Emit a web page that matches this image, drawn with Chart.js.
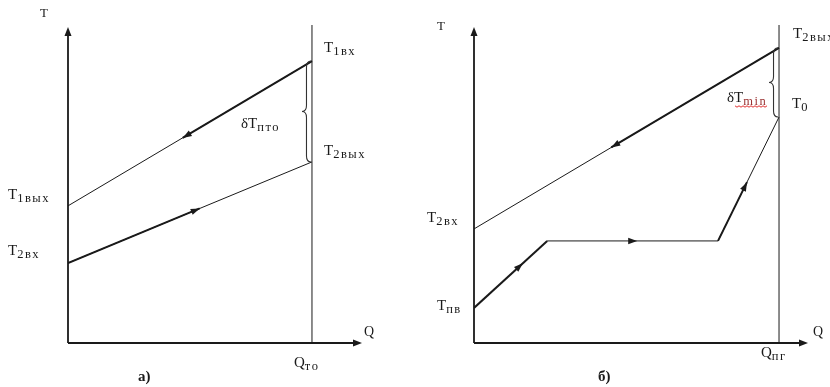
<!DOCTYPE html>
<html>
<head>
<meta charset="utf-8">
<script src="https://cdn.jsdelivr.net/npm/chart.js@4/dist/chart.umd.min.js"></script>
<style>
  body { margin: 0; background: #fff; }
  .panel { position: absolute; top: 0; width: 415px; height: 387px; }
</style>
</head>
<body>
<div class="panel" style="left:0"><canvas id="panelA" width="415" height="387"></canvas></div>
<div class="panel" style="left:415px"><canvas id="panelB" width="415" height="387"></canvas></div>
<script>
// а) — теплообменник: греющая среда (1) и нагреваемая среда (2), Q от 0 до Q_ТО = 100
var hotA = [{x: 0, y: 43.4}, {x: 100, y: 89.2}];
var coldA = [{x: 0, y: 25.3}, {x: 100, y: 57.3}];
var hotAThick = [{x: 100, y: 89.2}, {x: 47, y: 64.9}];
var coldAThick = [{x: 0, y: 25.3}, {x: 54, y: 42.6}];
var arrowsA = [
    [{x: 100, y: 89.2}, {x: 47, y: 64.9}],
    [{x: 0, y: 25.3}, {x: 54, y: 42.6}]
];

// б) — парогенератор: теплоноситель и питательная вода / пар, Q от 0 до Q_ПГ = 100
var hotB = [{x: 0, y: 36.1}, {x: 100, y: 93.4}];
var coldB = [{x: 0, y: 11.1}, {x: 24, y: 32.3}, {x: 80, y: 32.3}, {x: 100, y: 71.5}];
var hotBThick = [{x: 100, y: 93.4}, {x: 45, y: 61.9}];
var coldBThick1 = [{x: 0, y: 11.1}, {x: 24, y: 32.3}];
var coldBThick2 = [{x: 80, y: 32.3}, {x: 89.5, y: 50.9}];
var arrowsB = [
    [{x: 100, y: 93.4}, {x: 45, y: 61.9}],
    [{x: 0, y: 11.1}, {x: 16, y: 25.2}],
    [{x: 24, y: 32.3}, {x: 53.5, y: 32.3}],
    [{x: 80, y: 32.3}, {x: 89.5, y: 50.9}]
];

var INK = "#1a1a1a";
var SERIF = "'Liberation Serif', 'DejaVu Serif', serif";

function lineSet(points, width) {
    return {
        data: points,
        showLine: true,
        borderColor: INK,
        borderWidth: width,
        pointRadius: 0,
        fill: false,
        tension: 0
    };
}

function arrowHead(ctx, x0, y0, x1, y1, len, half) {
    var dx = x1 - x0, dy = y1 - y0;
    var d = Math.sqrt(dx * dx + dy * dy);
    var ux = dx / d, uy = dy / d;
    var bx = x1 - ux * len, by = y1 - uy * len;
    ctx.beginPath();
    ctx.moveTo(x1, y1);
    ctx.lineTo(bx - uy * half, by + ux * half);
    ctx.lineTo(bx + uy * half, by - ux * half);
    ctx.closePath();
    ctx.fill();
}

// label with subscript: main letters, then a lowered smaller tail
function subText(ctx, main, sub, x, y, opts) {
    opts = opts || {};
    var size = opts.size || 15;
    ctx.font = size + "px " + SERIF;
    ctx.fillStyle = INK;
    ctx.fillText(main, x, y);
    var w = ctx.measureText(main).width;
    if (!sub) return;
    ctx.font = (opts.subSize || 12.5) + "px " + SERIF;
    ctx.letterSpacing = "1.5px";
    ctx.fillStyle = opts.subColor || INK;
    ctx.fillText(sub, x + w, y + 3);
    ctx.letterSpacing = "0px";
}

// curly brace "{" along the vertical line between two temperatures
function brace(ctx, x0, y1, y2, h) {
    var ym = (y1 + y2) / 2, q = 6;
    ctx.beginPath();
    ctx.moveTo(x0, y1);
    ctx.quadraticCurveTo(x0 - h, y1, x0 - h, y1 + q);
    ctx.lineTo(x0 - h, ym - q);
    ctx.quadraticCurveTo(x0 - h, ym, x0 - 2 * h, ym);
    ctx.quadraticCurveTo(x0 - h, ym, x0 - h, ym + q);
    ctx.lineTo(x0 - h, y2 - q);
    ctx.quadraticCurveTo(x0 - h, y2, x0, y2);
    ctx.stroke();
}

function diagramPlugin(arrows, hot, cold, texts) {
    return {
        id: "diagram",
        afterDatasetsDraw: function(chart) {
            var ctx = chart.ctx, a = chart.chartArea;
            var sx = chart.scales.x, sy = chart.scales.y;
            var qEnd = sx.getPixelForValue(100);
            ctx.save();
            ctx.strokeStyle = INK;
            ctx.fillStyle = INK;

            // axes with arrow tips
            ctx.lineWidth = 1.8;
            ctx.beginPath();
            ctx.moveTo(a.left, a.bottom);
            ctx.lineTo(a.left, a.top + 6);
            ctx.moveTo(a.left, a.bottom);
            ctx.lineTo(a.right - 6, a.bottom);
            ctx.stroke();
            arrowHead(ctx, a.left, a.bottom, a.left, a.top, 9, 3.5);
            arrowHead(ctx, a.left, a.bottom, a.right, a.bottom, 9, 3.5);

            // end of the heat transfer, Q = 100
            ctx.lineWidth = 1;
            ctx.beginPath();
            ctx.moveTo(qEnd, a.top - 2);
            ctx.lineTo(qEnd, a.bottom);
            ctx.stroke();

            // flow direction marks
            arrows.forEach(function(seg) {
                arrowHead(ctx,
                    sx.getPixelForValue(seg[0].x), sy.getPixelForValue(seg[0].y),
                    sx.getPixelForValue(seg[1].x), sy.getPixelForValue(seg[1].y), 9, 3.2);
            });

            // temperature difference at the hot end
            ctx.lineWidth = 1.1;
            ctx.strokeStyle = "#333";
            brace(ctx, qEnd - 1,
                sy.getPixelForValue(hot[hot.length - 1].y),
                sy.getPixelForValue(cold[cold.length - 1].y), 4.5);

            texts(ctx);
            ctx.restore();
        }
    };
}

function makeChart(id, padLeft, padRight, xMax, datasets, plugin) {
    return new Chart(document.getElementById(id).getContext("2d"), {
        type: "scatter",
        data: { datasets: datasets },
        options: {
            responsive: false,
            animation: false,
            layout: { padding: { left: padLeft, right: padRight, top: 27, bottom: 44 } },
            scales: {
                x: { type: "linear", min: 0, max: xMax, display: false },
                y: { type: "linear", min: 0, max: 100, display: false }
            },
            plugins: { legend: { display: false }, tooltip: { enabled: false } }
        },
        plugins: [plugin]
    });
}

var chartA = makeChart("panelA", 68, 53, 120.5, [
    lineSet(hotA, 1), lineSet(coldA, 1),
    lineSet(hotAThick, 2), lineSet(coldAThick, 2)
], diagramPlugin(arrowsA, hotA, coldA, function(ctx) {
    subText(ctx, "T", "", 40, 17, { size: 13 });
    subText(ctx, "T", "1вх", 324, 52);
    subText(ctx, "δT", "пто", 241, 128);
    subText(ctx, "T", "2вых", 324, 155);
    subText(ctx, "T", "1вых", 8, 199);
    subText(ctx, "T", "2вх", 8, 255);
    subText(ctx, "Q", "", 364, 336, { size: 14 });
    subText(ctx, "Q", "то", 294, 367);
    ctx.font = "bold 15px " + SERIF;
    ctx.fillStyle = INK;
    ctx.fillText("а)", 138, 381);
}));

var chartB = makeChart("panelB", 59, 22, 109.5, [
    lineSet(hotB, 1), lineSet(coldB, 1),
    lineSet(hotBThick, 2), lineSet(coldBThick1, 2), lineSet(coldBThick2, 2)
], diagramPlugin(arrowsB, hotB, coldB, function(ctx) {
    subText(ctx, "T", "", 22, 30, { size: 13 });
    subText(ctx, "T", "2вых", 378, 38);
    subText(ctx, "δT", "min", 312, 102, { subColor: "#9a3030" });
    // spell-check squiggle under T_min
    ctx.strokeStyle = "#e03030";
    ctx.lineWidth = 1;
    ctx.beginPath();
    for (var i = 0; i <= 16; i++) {
        var px = 320 + i * 2;
        var py = 106 + (i % 2 ? 1.2 : -0.2);
        if (i === 0) ctx.moveTo(px, py); else ctx.lineTo(px, py);
    }
    ctx.stroke();
    subText(ctx, "T", "0", 377, 108);
    subText(ctx, "T", "2вх", 12, 222);
    subText(ctx, "T", "пв", 22, 310);
    subText(ctx, "Q", "", 398, 336, { size: 14 });
    subText(ctx, "Q", "пг", 346, 357);
    ctx.font = "bold 15px " + SERIF;
    ctx.fillStyle = INK;
    ctx.fillText("б)", 183, 381);
}));
</script>
</body>
</html>
